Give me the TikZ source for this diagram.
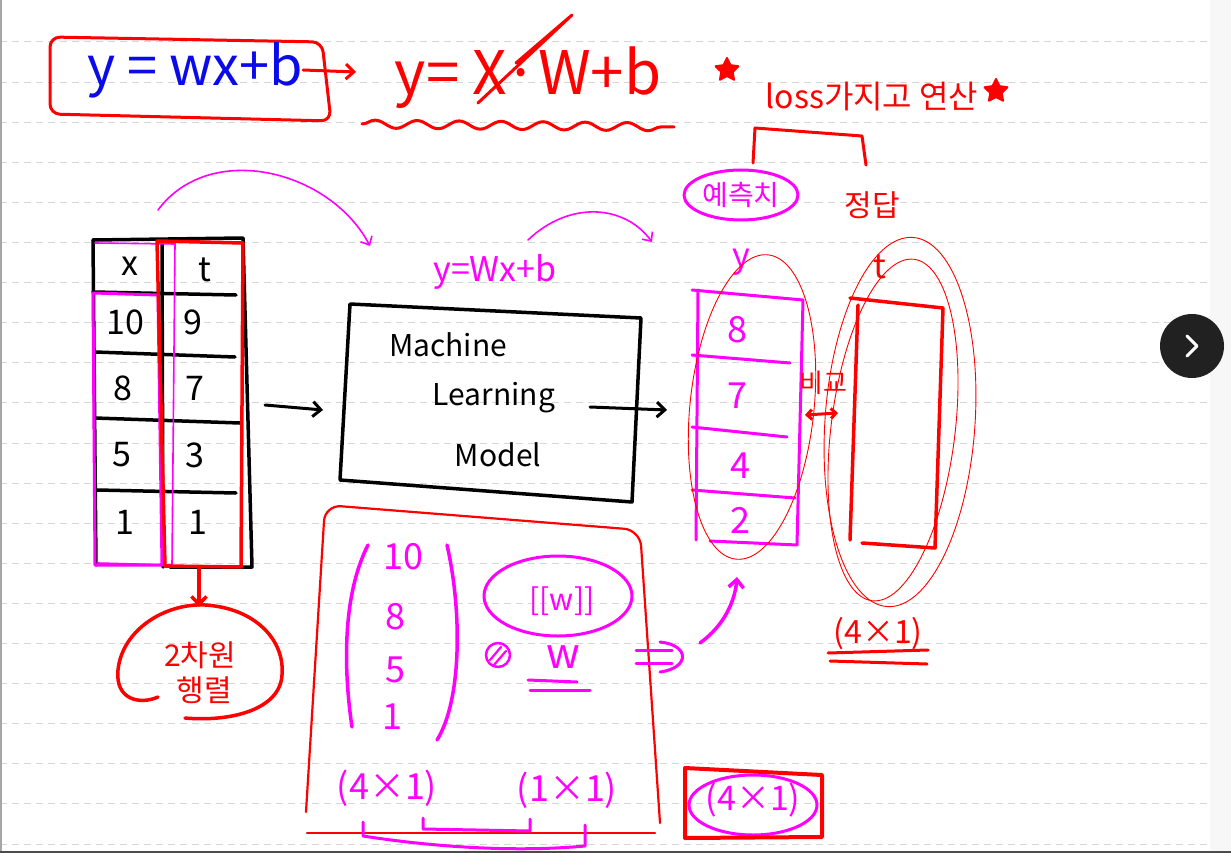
\documentclass[tikz,border=0pt]{standalone}
\usepackage{fontspec}
\setmainfont{Noto Sans CJK KR}
\usetikzlibrary{arrows.meta,decorations.pathmorphing,shapes.geometric,calc}
\definecolor{penred}{HTML}{FF0000}
\definecolor{penmag}{HTML}{FF00FF}
\definecolor{penblue}{HTML}{0B0BEA}
\definecolor{gridc}{HTML}{D6D6D6}
\begin{document}
\begin{tikzpicture}[x=1pt,y=-1pt,
  redpen/.style={draw=penred,line width=3.5pt,line cap=round,line join=round},
  magpen/.style={draw=penmag,line width=3.5pt,line cap=round,line join=round},
  blkpen/.style={draw=black,line width=3.5pt,line cap=round,line join=round},
  thinred/.style={draw=penred,line width=0.9pt},
  thinmag/.style={draw=penmag,line width=1.6pt,line cap=round},
  txt/.style={inner sep=0pt,font=\fontsize{#1}{#1}\selectfont},
  barb/.style={-{Straight Barb[length=8pt,width=15pt]}},
  hstar/.style={star,star points=5,star point ratio=2.0,draw=penred,fill=penred,line width=2pt,line join=round,minimum size=24pt,inner sep=0pt},
]
\useasboundingbox (0,0) rectangle (1231,853);
\fill[white] (0,0) rectangle (1231,853);
\fill[black!3] (1210,0) rectangle (1231,853);
\foreach \k in {0,...,20}{
  \draw[gridc,line width=1pt,dash pattern=on 7pt off 5pt] (0,{42+40.1*\k}) -- (1210,{42+40.1*\k});
}
\draw[black!35,line width=1.5pt] (1,0) -- (1,853);
\draw[black!70,line width=2pt] (0,852) -- (1231,852);

% ---------- top equations ----------
\draw[redpen,line width=3pt,rounded corners=10pt] (50,37) -- (322,42) -- (331,121) -- (50,114) -- cycle;
\node[txt=54,text=penblue] (eq1) at (195,70) {y = wx+b};
\node[txt=60,text=penred] (eq2) at (528,78) {y= X·W+b};
\coordinate (a1e) at (356,72);
\draw[redpen,line width=3pt,barb] (eq1.east) -- (a1e);
\coordinate (sl1) at (478,103); \coordinate (sl2) at (572,15); \coordinate (sl3) at (516,63);
\draw[redpen,line width=3pt] (sl1) -- (sl2) -- (sl3);
\draw[redpen,line width=3pt,decorate,decoration={snake,amplitude=4pt,segment length=42pt}] (362,124) -- (674,127);

\node[hstar] (st1) at (727,70) {};
\node[hstar] (st2) at (996,91) {};
\node[txt=32,text=penred] (loss) at (872,97) {loss가지고 연산};
\draw[redpen,line width=3pt] (753,163) -- (755,128) -- (862,136) -- (866,165);

\node[txt=28,text=penmag] (pred) at (741,195) {예측치};
\draw[magpen,line width=3pt] (pred) ellipse [x radius=57pt,y radius=25pt];
\node[txt=30,text=penred] (ans) at (872,205) {정답};

% curved magenta arrows
\coordinate (c1s) at (158,210); \coordinate (c1e) at (370,246);
\draw[thinmag,-{Straight Barb[length=7pt,width=13pt]}] (c1s) .. controls (210,140) and (330,170) .. (c1e);
\coordinate (c2s) at (528,240); \coordinate (c2e) at (652,242);
\draw[thinmag,-{Straight Barb[length=7pt,width=13pt]}] (c2s) .. controls (570,200) and (625,205) .. (c2e);
\node[txt=34,text=penmag] (ymodel) at (495,272) {y=Wx+b};

% ---------- table ----------
\draw[blkpen] (93,240) -- (243,238) -- (252,567) -- (170,567);
\draw[blkpen] (93,240) -- (96,565);
\draw[blkpen] (162,240) -- (163,567);
\draw[blkpen] (93,292) -- (236,295);
\draw[blkpen] (95,352) -- (235,357);
\draw[blkpen] (95,418) -- (240,423);
\draw[blkpen] (97,490) -- (236,493);
\draw[magpen,line width=3pt] (93,293) -- (158,295) -- (162,565) -- (95,565) -- cycle;
\draw[thinmag] (95,243) -- (175,244) -- (172,565) -- (98,563);
\draw[redpen] (157,241) -- (243,243) -- (241,567) -- (165,566) -- cycle;
\node[txt=34] (hx) at (130,266) {x};
\node[txt=34] (ht) at (205,270) {t};
\node[txt=34] (x1) at (125,322) {10};
\node[txt=34] (t1) at (193,322) {9};
\node[txt=34] (x2) at (123,388) {8};
\node[txt=34] (t2) at (195,388) {7};
\node[txt=34] (x3) at (122,455) {5};
\node[txt=34] (t3) at (195,455) {3};
\node[txt=34] (x4) at (125,522) {1};
\node[txt=34] (t4) at (198,522) {1};

% 2-D matrix note
\coordinate (tb) at (199,568); \coordinate (blobtop) at (199,607);
\draw[redpen,barb] (tb) -- (blobtop);
\draw[redpen] (158,697) .. controls (140,705) and (115,700) .. (118,670) .. controls (122,630) and (165,603) .. (205,605) .. controls (255,608) and (285,640) .. (282,675) .. controls (280,710) and (230,722) .. (185,718);
\node[txt=30,text=penred] (dim2) at (200,655) {2차원};
\node[txt=30,text=penred] (mat) at (204,690) {행렬};

% ---------- ML box ----------
\draw[blkpen] (350,304) -- (641,318) -- (632,502) -- (340,480) -- cycle;
\node[txt=30] (m1) at (448,345) {Machine};
\node[txt=30] (m2) at (494,398) {Learning};
\node[txt=30] (m3) at (498,455) {Model};
\coordinate (inS) at (265,405); \coordinate (inE) at (323,410);
\draw[blkpen,line width=3pt,barb] (inS) -- (inE);
\coordinate (outS) at (590,407); \coordinate (outE) at (667,410);
\draw[blkpen,line width=3pt,barb] (outS) -- (outE);

% ---------- prediction column ----------
\draw[magpen,line width=3pt] (692,290) -- (803,300) -- (797,545) -- (710,541);
\draw[magpen,line width=3pt] (698,290) -- (696,540);
\draw[magpen,line width=3pt] (692,355) -- (790,363);
\draw[magpen,line width=3pt] (692,427) -- (787,437);
\draw[magpen,line width=3pt] (692,490) -- (795,498);
\node[txt=34,text=penmag] (py) at (741,262) {y};
\node[txt=36,text=penmag] (p1) at (737,330) {8};
\node[txt=36,text=penmag] (p2) at (737,396) {7};
\node[txt=36,text=penmag] (p3) at (740,466) {4};
\node[txt=36,text=penmag] (p4) at (740,520) {2};
\draw[thinred,rotate around={-6:(752,407)}] (752,407) ellipse [x radius=62pt,y radius=153pt];

\node[txt=26,text=penred] (cmp) at (823,383) {비교};
\draw[redpen,line width=3pt,{Straight Barb[length=5pt,width=10pt]}-{Straight Barb[length=5pt,width=10pt]}] (805,415) -- (838,413);

% ---------- answer column ----------
\draw[redpen] (850,298) -- (943,308) -- (935,548) -- (862,543);
\draw[redpen] (858,305) -- (850,540);
\node[txt=34,text=penred] (at) at (880,267) {t};
\draw[thinred,rotate around={-4:(900,422)}] (900,422) ellipse [x radius=75pt,y radius=185pt];
\draw[thinred,rotate around={-7:(893,430)}] (893,430) ellipse [x radius=62pt,y radius=172pt];
\node[txt=32,text=penred] (adim) at (878,634) {(4×1)};
\draw[redpen,line width=3pt] (828,653) -- (928,650);
\draw[redpen,line width=3pt] (830,661) -- (927,664);

% ---------- big red box with matrix product ----------
\draw[redpen,line width=2.2pt,rounded corners=16pt] (306,812) -- (325,505) -- (640,530) -- (660,823);
\draw[redpen,line width=2.2pt] (307,833) -- (655,833);
\draw[magpen] (368,545) .. controls (340,600) and (345,680) .. (352,727);
\draw[magpen] (447,545) .. controls (462,610) and (462,700) .. (437,740);
\node[txt=36,text=penmag] (v1) at (403,557) {10};
\node[txt=36,text=penmag] (v2) at (395,617) {8};
\node[txt=36,text=penmag] (v3) at (395,670) {5};
\node[txt=36,text=penmag] (v4) at (392,717) {1};
\node[txt=30,text=penmag] (ww) at (562,601) {[[w]]};
\draw[magpen,line width=3pt] (558,596) ellipse [x radius=74pt,y radius=40pt];
\draw[magpen,line width=2.5pt] (498,655) circle (12pt);
\draw[magpen,line width=2.2pt] (490,660) -- (501,647) (494,665) -- (506,651);
\node[txt=42,text=penmag] (wv) at (563,657) {w};
\draw[magpen,line width=3pt] (528,680) -- (577,682);
\draw[magpen,line width=3pt] (530,690) -- (590,690);
\draw[magpen,line width=3pt] (636,650) -- (672,650) (636,663) -- (672,663);
\draw[magpen,line width=3pt] (660,642) .. controls (690,645) and (690,668) .. (660,672);
\node[txt=36,text=penmag] (d1) at (387,788) {(4×1)};
\node[txt=36,text=penmag] (d2) at (567,790) {(1×1)};
\draw[magpen,line width=3pt] (363,822) -- (363,836) .. controls (440,848) and (520,852) .. (585,846) -- (585,825);
\draw[magpen,line width=3pt] (423,818) -- (423,829) -- (530,831) -- (530,819);

% arrow to prediction
\coordinate (pa1) at (700,643); \coordinate (pa2) at (737,577);
\draw[magpen,barb] (pa1) .. controls (725,625) and (735,600) .. (pa2);

% ---------- bottom result box ----------
\draw[magpen,line width=3pt] (753,805) ellipse [x radius=64pt,y radius=30pt];
\node[txt=34,text=penmag] (res) at (753,800) {(4×1)};
\draw[redpen,line width=4pt] (685,768) -- (822,775) -- (822,837) -- (685,838) -- cycle;

% ---------- side button ----------
\fill[black!87] (1192,346) circle (32pt);
\draw[white,line width=3pt,line cap=round,line join=round] (1187,336) -- (1197,346) -- (1187,356);
\end{tikzpicture}
\end{document}
